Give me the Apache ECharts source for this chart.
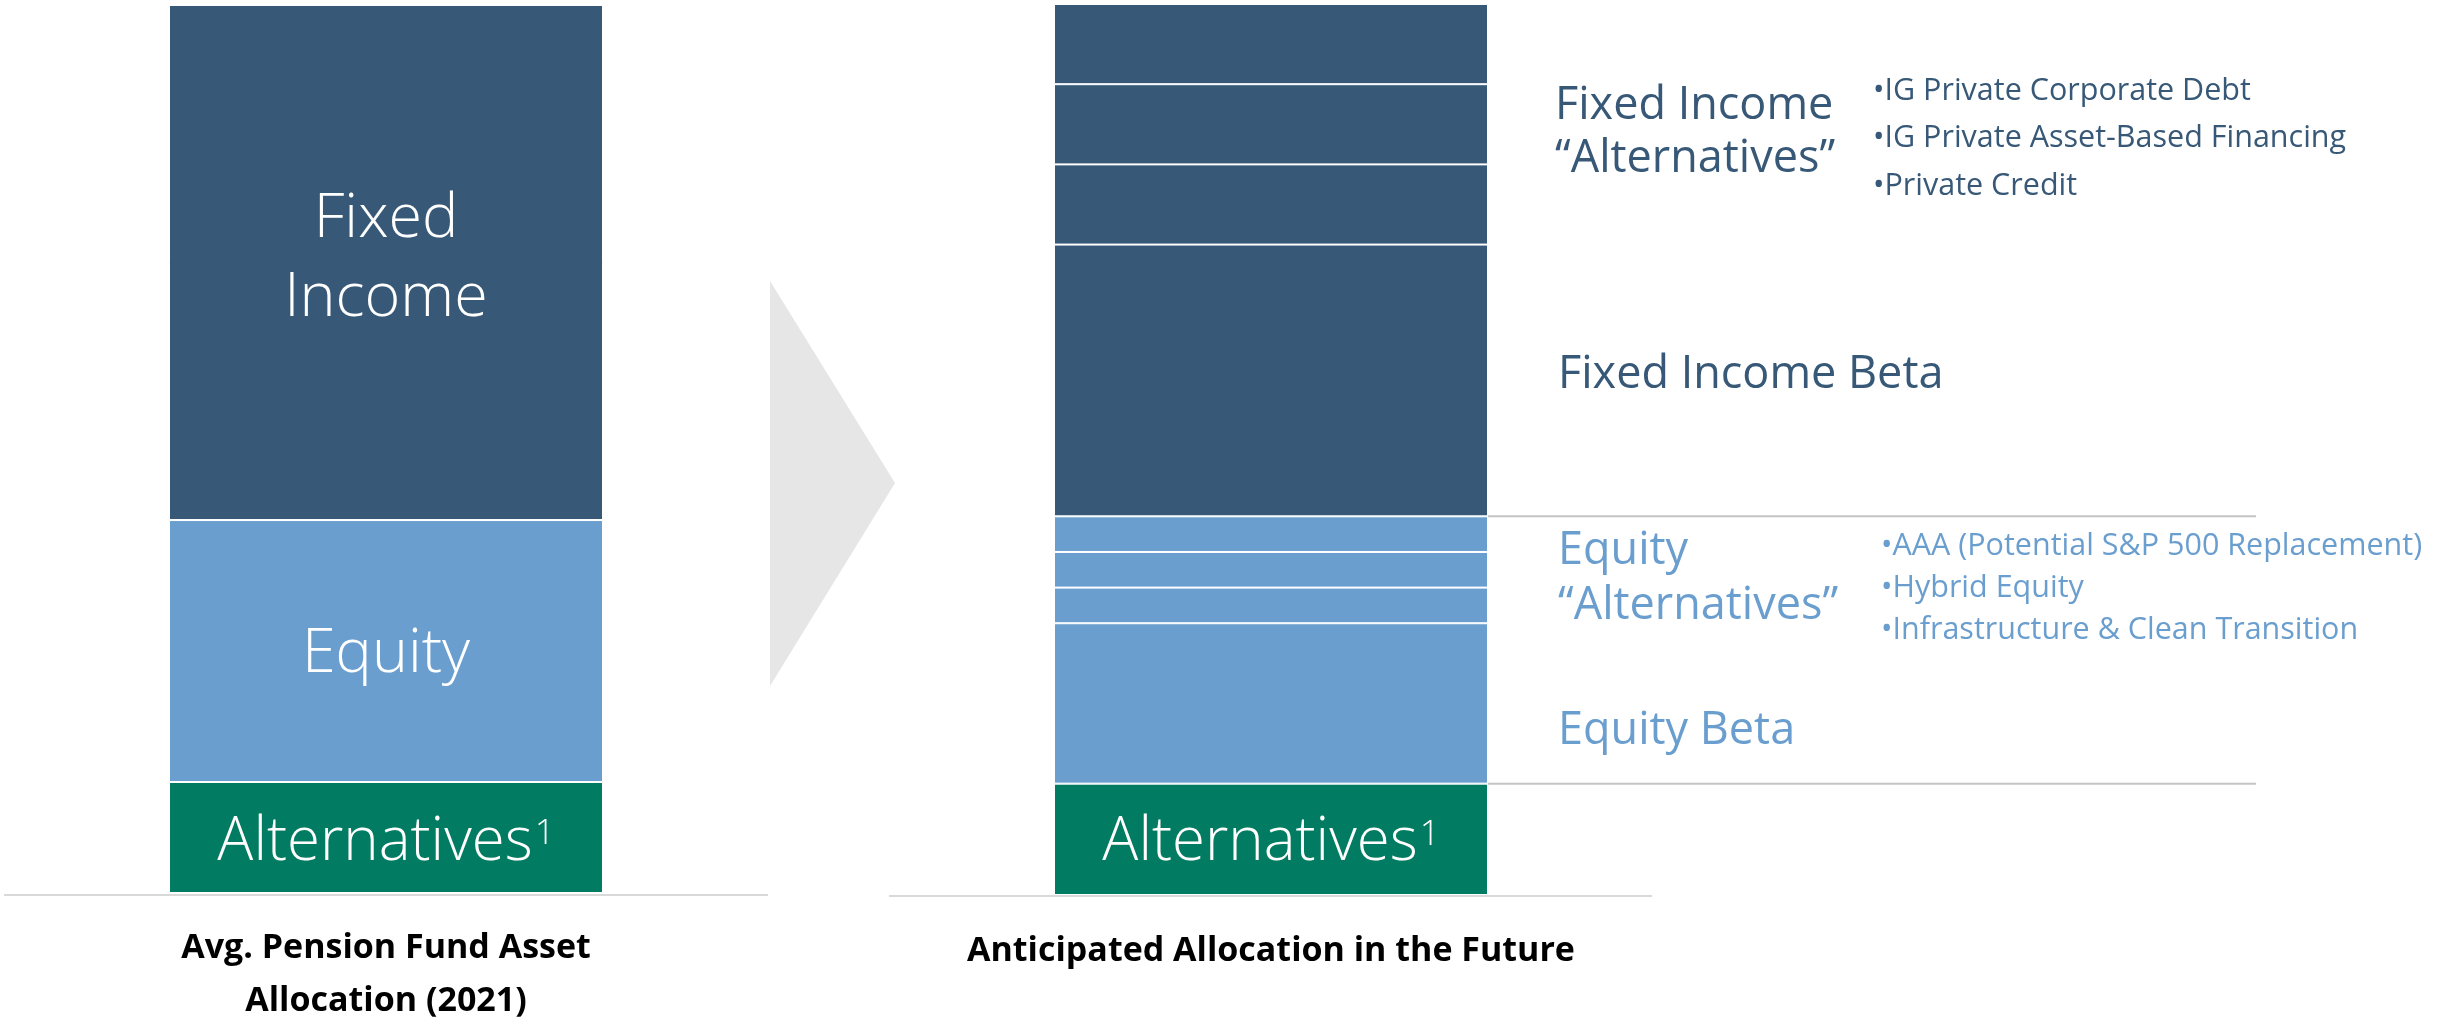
<!DOCTYPE html>
<html>
<head>
<meta charset="utf-8">
<script src="https://cdn.jsdelivr.net/npm/echarts@6/dist/echarts.min.js"></script>
<style>
html,body{margin:0;padding:0;background:#fff;}
#chart{width:2463px;height:1020px;}
</style>
</head>
<body>
<div id="chart"></div>
<script>
// ---- data ----
const leftTitle = 'Avg. Pension Fund Asset\nAllocation (2021)';
const rightTitle = 'Anticipated Allocation in the Future';
const currentSegments = ['Alternatives', 'Equity', 'Fixed Income'];
const currentValues = [12.5, 29.5, 58];
const futureSegments = ['Alternatives', 'Equity Beta', 'Equity Alt 1', 'Equity Alt 2', 'Equity Alt 3',
                        'Fixed Income Beta', 'FI Alt 1', 'FI Alt 2', 'FI Alt 3'];
const futureValues = [12.5, 18, 4, 4, 4, 30.5, 9, 9, 9];
const fiAltBullets = ['IG Private Corporate Debt', 'IG Private Asset-Based Financing', 'Private Credit'];
const eqAltBullets = ['AAA (Potential S&P 500 Replacement)', 'Hybrid Equity', 'Infrastructure & Clean Transition'];

// ---- styles ----
const FONT = 'Open Sans';
const DARK = '#375877';
const LIGHT = '#6A9ECF';
const GREEN = '#017B61';
function colorOf(name) {
  if (name === 'Alternatives') return GREEN;
  if (name.indexOf('Equity') === 0) return LIGHT;
  return DARK;
}
const altRich = {
  m: {fontSize: 60, fontWeight: 300, color: '#fff', fontFamily: FONT},
  s: {fontSize: 35, fontWeight: 300, color: '#fff', fontFamily: FONT, verticalAlign: 'top', padding: [4, 0, 0, 2]}
};
const insideBase = {show: true, position: 'inside', color: '#fff', fontFamily: FONT, fontWeight: 300, fontSize: 61};

function leftLabel(name) {
  if (name === 'Fixed Income') return Object.assign({}, insideBase, {formatter: 'Fixed\nIncome', lineHeight: 79, offset: [0, -3]});
  if (name === 'Equity') return Object.assign({}, insideBase, {formatter: 'Equity', offset: [0, 4]});
  return Object.assign({}, insideBase, {formatter: '{m|Alternatives}{s|1}', rich: altRich, offset: [0, 5]});
}
function rightLabel(name) {
  const side = {show: true, position: 'right', align: 'left', fontFamily: FONT, fontSize: 45};
  if (name === 'Alternatives') return Object.assign({}, insideBase, {formatter: '{m|Alternatives}{s|1}', rich: altRich, offset: [0, 4]});
  if (name === 'FI Alt 2') return Object.assign({}, side, {distance: 67, color: DARK, formatter: 'Fixed Income\n\u201CAlternatives\u201D', lineHeight: 53, offset: [0, 8]});
  if (name === 'Fixed Income Beta') return Object.assign({}, side, {distance: 70, color: DARK, formatter: 'Fixed Income Beta', offset: [0, -5]});
  if (name === 'Equity Alt 2') return Object.assign({}, side, {distance: 70, color: LIGHT, formatter: 'Equity\n\u201CAlternatives\u201D', lineHeight: 55, offset: [0, 9]});
  if (name === 'Equity Beta') return Object.assign({}, side, {distance: 70, color: LIGHT, formatter: 'Equity Beta', offset: [0, 28]});
  return {show: false};
}

const series = [];
currentSegments.forEach((name, i) => {
  series.push({
    name: name, type: 'bar', xAxisIndex: 0, yAxisIndex: 0, stack: 'now', barWidth: '100%',
    data: [currentValues[i]],
    itemStyle: {color: colorOf(name), borderColor: '#fff', borderWidth: 1},
    label: leftLabel(name), emphasis: {disabled: true}, silent: true
  });
});
futureSegments.forEach((name, i) => {
  series.push({
    name: name, type: 'bar', xAxisIndex: 1, yAxisIndex: 1, stack: 'future', barWidth: '100%',
    data: [futureValues[i]],
    itemStyle: {color: colorOf(name), borderColor: '#fff', borderWidth: 1},
    label: rightLabel(name), emphasis: {disabled: true}, silent: true
  });
});

const axisLabelBase = {fontSize: 34, fontWeight: 'bold', color: '#000', lineHeight: 53, fontFamily: FONT};
const option = {
  animation: false,
  backgroundColor: '#fff',
  grid: [
    {left: 169, width: 434, top: 5, height: 888, outerBoundsMode: 'none', containLabel: false},
    {left: 1054, width: 434, top: 4, height: 891, outerBoundsMode: 'none', containLabel: false}
  ],
  xAxis: [
    {type: 'category', gridIndex: 0, data: [leftTitle], axisLine: {show: false}, axisTick: {show: false},
     axisLabel: Object.assign({}, axisLabelBase, {margin: 29})},
    {type: 'category', gridIndex: 1, data: [rightTitle], axisLine: {show: false}, axisTick: {show: false},
     axisLabel: Object.assign({}, axisLabelBase, {margin: 30})}
  ],
  yAxis: [
    {type: 'value', gridIndex: 0, min: 0, max: 100, show: false},
    {type: 'value', gridIndex: 1, min: 0, max: 100, show: false}
  ],
  series: series
};

const chart = echarts.init(document.getElementById('chart'), null, {renderer: 'canvas'});
chart.setOption(option);

// ---- annotations positioned through the chart's own scales ----
function cum(n) { let s = 0; for (let i = 0; i < n; i++) s += futureValues[i]; return s; }
function py(gridIdx, v) { return chart.convertToPixel({yAxisIndex: gridIdx}, v); }
const barRight = 1054 + 434;
const yAltTop = py(1, cum(1));           // Alternatives / Equity boundary
const yEqTop = py(1, cum(5));            // Equity / Fixed Income boundary
const yEqAltMid = py(1, (cum(2) + cum(5)) / 2);
const yFiAltMid = py(1, (cum(6) + cum(9)) / 2);
const yBase0 = py(0, 0);
const yBase1 = py(1, 0);

const graphics = [];
// arrow
graphics.push({type: 'polygon', shape: {points: [[770, 281], [895, 483], [770, 686]]}, style: {fill: '#E6E6E6'}, silent: true});
// baselines
graphics.push({type: 'line', shape: {x1: 4, y1: yBase0 + 2, x2: 768, y2: yBase0 + 2}, style: {stroke: '#D9D9D9', lineWidth: 2}, silent: true});
graphics.push({type: 'line', shape: {x1: 889, y1: yBase1 + 1, x2: 1652, y2: yBase1 + 1}, style: {stroke: '#D9D9D9', lineWidth: 2}, silent: true});
// dividers to the right of the future bar
[yAltTop, yEqTop].forEach(y => {
  graphics.push({type: 'line', shape: {x1: barRight, y1: y, x2: 2256, y2: y}, style: {stroke: '#C4C4C4', lineWidth: 2}, silent: true});
});
// bullet lists
fiAltBullets.forEach((t, k) => {
  graphics.push({type: 'text', x: barRight + 385, y: yFiAltMid - 33 + k * 47.5,
    style: {text: '\u2022' + t, fill: DARK, font: '30.5px "' + FONT + '"', verticalAlign: 'middle', align: 'left'}, silent: true});
});
eqAltBullets.forEach((t, k) => {
  graphics.push({type: 'text', x: barRight + 393, y: yEqAltMid - 23 + k * 42,
    style: {text: '\u2022' + t, fill: LIGHT, font: '30.5px "' + FONT + '"', verticalAlign: 'middle', align: 'left'}, silent: true});
});
chart.setOption({graphic: graphics});
</script>
</body>
</html>
